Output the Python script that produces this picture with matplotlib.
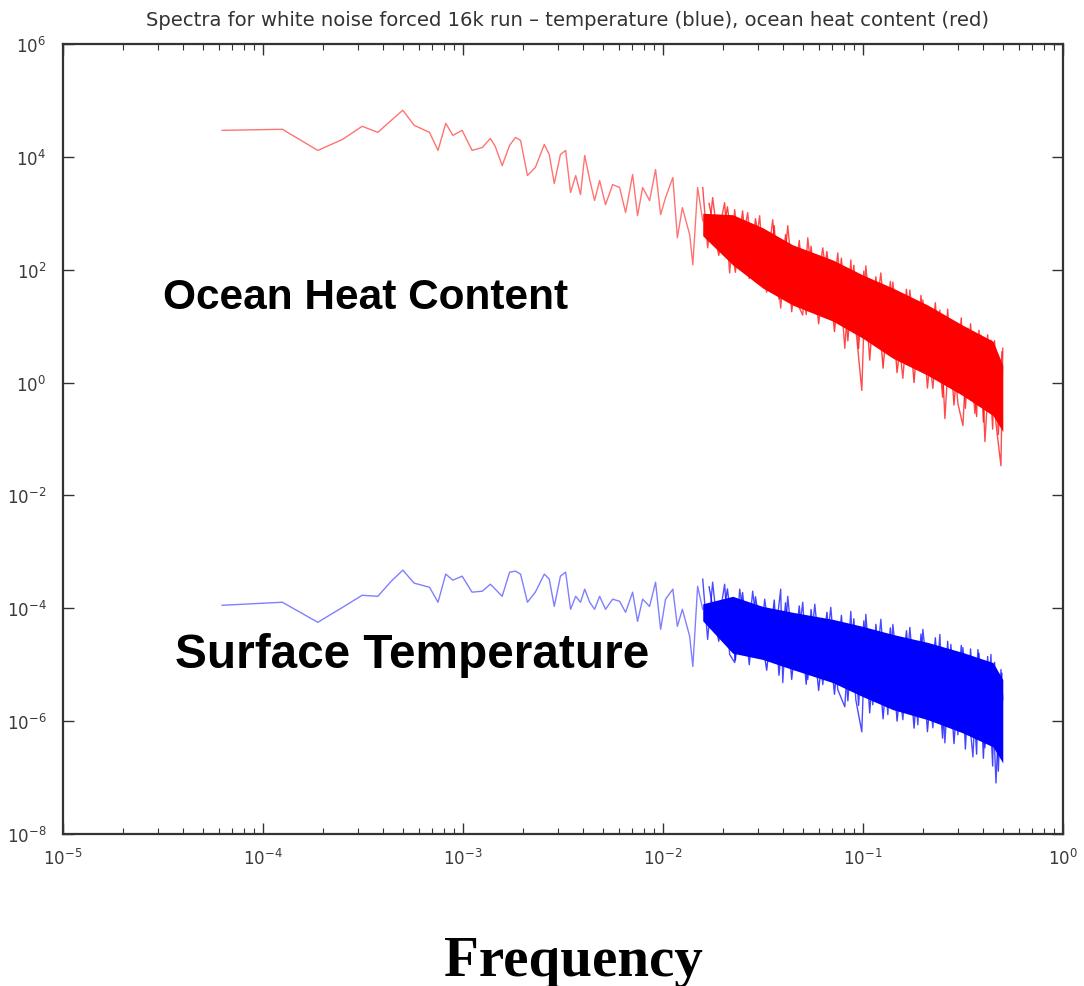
import numpy as np
import matplotlib
matplotlib.use('Agg')
import matplotlib.pyplot as plt
from matplotlib.ticker import LogLocator, NullLocator

# low frequency part, drawn as a line (cycles per step)
freq_lo = [6.25e-5, 1.25e-4, 1.88e-4, 2.50e-4, 3.13e-4, 3.75e-4, 4.38e-4, 5.00e-4, 5.70e-4, 6.80e-4,
           7.50e-4, 8.20e-4, 8.90e-4, 9.90e-4, 1.11e-3, 1.25e-3, 1.37e-3, 1.45e-3, 1.57e-3, 1.71e-3,
           1.83e-3, 1.94e-3, 2.10e-3, 2.30e-3, 2.55e-3, 2.70e-3, 2.86e-3, 3.07e-3, 3.26e-3, 3.45e-3,
           3.66e-3, 3.87e-3, 4.06e-3, 4.30e-3, 4.55e-3, 4.82e-3, 5.16e-3, 5.60e-3, 6.07e-3, 6.50e-3,
           7.05e-3, 7.46e-3, 7.91e-3, 8.57e-3, 9.18e-3, 9.73e-3, 1.03e-2, 1.12e-2, 1.18e-2, 1.25e-2,
           1.36e-2, 1.41e-2, 1.49e-2, 1.58e-2]
ohc_lo = [2.95e4, 3.08e4, 1.30e4, 2.04e4, 3.48e4, 2.72e4, 4.44e4, 6.70e4, 3.62e4, 2.72e4,
          1.30e4, 3.93e4, 2.40e4, 2.95e4, 1.30e4, 1.47e4, 2.12e4, 1.53e4, 7.0e3, 1.60e4,
          2.21e4, 1.96e4, 4.67e3, 6.48e3, 1.66e4, 1.10e4, 3.36e3, 1.10e4, 1.30e4, 2.33e3,
          4.67e3, 2.14e3, 1.06e4, 3.96e3, 1.68e3, 3.80e3, 1.42e3, 3.23e3, 2.86e3, 1.03e3,
          4.86e3, 906, 2.86e3, 1.68e3, 5.97e3, 944, 1.90e3, 4.30e3, 368, 1.26e3,
          416, 122, 2.86e3, 738]
temp_lo = [1.13e-4, 1.28e-4, 5.64e-5, 1.04e-4, 1.70e-4, 1.63e-4, 3.02e-4, 4.74e-4, 2.79e-4, 2.36e-4,
           1.28e-4, 4.03e-4, 3.15e-4, 3.71e-4, 1.93e-4, 2.01e-4, 2.67e-4, 2.18e-4, 1.63e-4, 4.37e-4,
           4.55e-4, 4.03e-4, 1.28e-4, 1.93e-4, 4.03e-4, 3.28e-4, 1.08e-4, 3.71e-4, 4.37e-4, 9.60e-5,
           1.63e-4, 1.28e-4, 2.18e-4, 1.28e-4, 9.60e-5, 1.63e-4, 9.60e-5, 1.45e-4, 1.33e-4, 8.49e-5,
           1.93e-4, 5.86e-5, 1.45e-4, 1.08e-4, 2.90e-4, 4.23e-5, 1.45e-4, 2.18e-4, 4.78e-5, 9.60e-5,
           3.17e-5, 9.28e-6, 2.46e-4, 9.60e-5]

# high frequency part: dense band (upper / lower edge of the solid core)
band_f = [0.0158, 0.0223, 0.0315, 0.0445, 0.0706, 0.0997, 0.141, 0.211, 0.315, 0.447, 0.5]
ohc_upper = [1.0e3, 944, 555, 276, 149, 80.8, 47.4, 23.6, 10.4, 5.41, 2.02]
ohc_lower = [400, 122, 47.4, 23.6, 12.3, 6.11, 2.70, 1.34, 0.59, 0.26, 0.135]
temp_upper = [1.2e-4, 1.63e-4, 1.08e-4, 8.49e-5, 6.37e-5, 4.78e-5, 3.44e-5, 2.48e-5, 1.65e-5, 1.09e-5, 5.45e-6]
temp_lower = [6.0e-5, 1.6e-5, 1.24e-5, 8.21e-6, 4.82e-6, 2.72e-6, 1.60e-6, 1.06e-6, 6.21e-7, 3.50e-7, 1.82e-7]

# biggest spikes sticking out of the band
ohc_spike_f = [0.0158, 0.01672, 0.01771, 0.01876, 0.02033, 0.02154, 0.02283, 0.02418, 0.02651, 0.02808,
               0.03043, 0.03225, 0.03536, 0.03877, 0.04204, 0.04558, 0.04997, 0.05294, 0.05740, 0.06294,
               0.06901, 0.07481, 0.08110, 0.08690, 0.09204, 0.09863, 0.1033, 0.1119, 0.1228, 0.1331,
               0.1410, 0.1582, 0.1715, 0.1880, 0.1992, 0.2235, 0.2423, 0.2567, 0.2750, 0.2982,
               0.3159, 0.3346, 0.3627, 0.3887, 0.4071, 0.4362, 0.4622, 0.4895, 0.5]
ohc_spike_p = [2855, 244, 1895, 368, 1544, 87.7, 1159, 162, 1025, 108,
               906, 47.5, 769, 20.9, 602, 31.5, 15.7, 368, 25.7, 244,
               15.1, 199, 4.06, 149, 9.21, 0.727, 117, 6.12, 87.7, 3.31,
               60.7, 1.19, 43.7, 1.79, 29.0, 0.789, 19.3, 0.231, 12.8, 0.426,
               0.173, 9.21, 0.283, 6.92, 0.0899, 5.64, 0.188, 0.0336, 4.06]
temp_spike_f = [0.0158, 0.01672, 0.01771, 0.01876, 0.02033, 0.02154, 0.02283, 0.02418, 0.02651, 0.02808,
                0.03043, 0.03225, 0.03536, 0.03877, 0.0397, 0.04204, 0.04558, 0.04997, 0.05294, 0.05740,
                0.06294, 0.06901, 0.07481, 0.08110, 0.08690, 0.09204, 0.09863, 0.1033, 0.1119, 0.1228,
                0.1331, 0.1410, 0.1582, 0.1715, 0.1880, 0.1992, 0.2235, 0.2423, 0.2567, 0.2750,
                0.2982, 0.3159, 0.3544, 0.3755, 0.4071, 0.4362, 0.4622, 0.4895, 0.5]
temp_spike_p = [3.28e-4, 2.81e-5, 2.90e-4, 4.23e-5, 2.67e-4, 1.52e-5, 1.09e-5, 2.18e-4, 2.29e-5, 2.01e-4,
                1.86e-5, 1.45e-4, 1.24e-5, 2.18e-4, 4.82e-6, 1.63e-4, 8.21e-6, 1.28e-4, 5.45e-6, 1.18e-4,
                4.44e-6, 1.04e-4, 3.61e-6, 1.80e-6, 8.84e-5, 2.40e-6, 6.47e-7, 7.82e-5, 1.95e-6, 6.37e-5,
                1.30e-6, 5.19e-5, 1.06e-6, 4.59e-5, 8.63e-7, 4.23e-5, 7.62e-7, 3.44e-5, 4.12e-7, 2.29e-5,
                5.73e-7, 2.02e-5, 2.32e-7, 1.86e-5, 3.36e-7, 1.52e-5, 8.02e-8, 8.21e-6, 2.40e-6]

# smaller spikes in between, these make the edges of the band ragged
fuzz_f = [0.017, 0.019, 0.021, 0.023, 0.025, 0.027, 0.029, 0.033, 0.036, 0.038,
          0.041, 0.044, 0.048, 0.052, 0.055, 0.060, 0.066, 0.072, 0.078, 0.084,
          0.090, 0.095, 0.101, 0.108, 0.116, 0.126, 0.137, 0.148, 0.165, 0.180,
          0.195, 0.21, 0.23, 0.25, 0.265, 0.285, 0.31, 0.325, 0.345, 0.37,
          0.38, 0.40, 0.42, 0.445, 0.455, 0.475, 0.495]
ohc_fuzz = [1500, 180, 1300, 90, 1100, 70, 800, 40, 600, 30,
            420, 18, 330, 16, 260, 11, 210, 8, 160, 5.5,
            120, 4, 95, 2.5, 75, 1.8, 62, 1.5, 45, 1.0,
            35, 0.8, 26, 0.55, 20, 0.4, 14, 0.35, 11, 0.25,
            8.5, 0.2, 7, 0.15, 5.5, 0.12, 3.5]
temp_fuzz = [2.4e-4, 2.6e-5, 2.2e-4, 1.2e-5, 1.9e-4, 1.0e-5, 1.6e-4, 8e-6, 1.4e-4, 6.5e-6,
             1.25e-4, 5.5e-6, 1.1e-4, 4.5e-6, 9.5e-5, 3.5e-6, 8.5e-5, 3.0e-6, 7.5e-5, 2.3e-6,
             6.5e-5, 1.9e-6, 6.0e-5, 1.4e-6, 5.2e-5, 1.1e-6, 4.5e-5, 1.0e-6, 4.0e-5, 7.5e-7,
             3.5e-5, 6.5e-7, 3.0e-5, 5.0e-7, 2.6e-5, 4.0e-7, 2.2e-5, 3.2e-7, 1.9e-5, 2.6e-7,
             1.6e-5, 2.2e-7, 1.4e-5, 1.6e-7, 1.1e-5, 1.3e-7, 7e-6]

TITLE = 'Spectra for white noise forced 16k run \u2013 temperature (blue), ocean heat content (red)'


def draw_series(ax, color, lo, upper, lower, spike_f, spike_p, fuzz, lo_alpha):
    ax.fill_between(band_f, lower, upper, color=color, lw=0)
    ax.plot(fuzz_f, fuzz, color=color, lw=1.0, alpha=0.75)
    ax.plot(spike_f, spike_p, color=color, lw=1.0, alpha=0.7)
    ax.plot(freq_lo, lo, color=color, lw=1.0, alpha=lo_alpha)


def main():
    plt.rcParams['font.family'] = 'DejaVu Sans'
    fig = plt.figure(figsize=(10.84, 9.87), dpi=100)
    ax = fig.add_axes([63 / 1084, 1 - 835 / 987, 1000 / 1084, 790 / 987])

    draw_series(ax, 'red', ohc_lo, ohc_upper, ohc_lower, ohc_spike_f, ohc_spike_p, ohc_fuzz, 0.55)
    draw_series(ax, 'blue', temp_lo, temp_upper, temp_lower, temp_spike_f, temp_spike_p, temp_fuzz, 0.5)

    ax.set_xscale('log')
    ax.set_yscale('log')
    ax.set_xlim(1e-5, 1)
    ax.set_ylim(1e-8, 1e6)
    ax.set_yticks([1e-8, 1e-6, 1e-4, 1e-2, 1e0, 1e2, 1e4, 1e6])
    ax.yaxis.set_minor_locator(NullLocator())
    ax.xaxis.set_minor_locator(LogLocator(base=10, subs=np.arange(2, 10)))

    ax.tick_params(which='both', direction='in', top=True, right=True, colors='#333333')
    ax.tick_params(which='major', length=8, width=1.0, labelsize=12, labelcolor='#3a3a3a')
    ax.tick_params(which='minor', length=4, width=0.8)
    ax.tick_params(axis='y', pad=12)
    ax.tick_params(axis='x', pad=10)
    for sp in ax.spines.values():
        sp.set_linewidth(1.6)
        sp.set_color('#333333')

    fig.text(567 / 1084, 1 - 20 / 987, TITLE, ha='center', va='center', fontsize=14.1, color='#333333')
    fig.text(163 / 1084, 1 - 309 / 987, 'Ocean Heat Content', ha='left', va='baseline',
             fontsize=30.5, fontweight='bold', family='Liberation Sans')
    fig.text(175 / 1084, 1 - 668 / 987, 'Surface Temperature', ha='left', va='baseline',
             fontsize=34.4, fontweight='bold', family='Liberation Sans')
    fig.text(573 / 1084, 1 - 976 / 987, 'Frequency', ha='center', va='baseline',
             fontsize=41, fontweight='bold', family='Liberation Serif')

    fig.savefig('out.png', dpi=100)


if __name__ == '__main__':
    main()
